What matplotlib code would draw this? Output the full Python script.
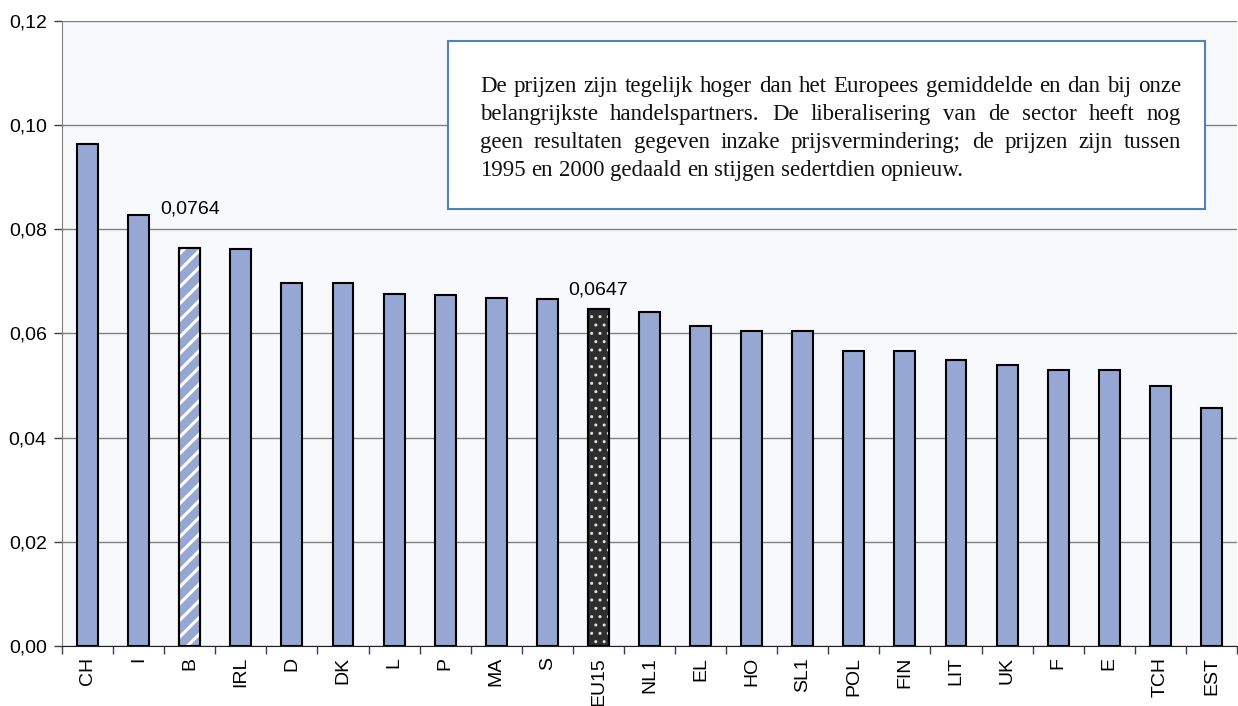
import matplotlib.pyplot as plt
from matplotlib.ticker import FixedLocator, FuncFormatter, MultipleLocator
from matplotlib.patches import Rectangle

countries = ['CH', 'I', 'B', 'IRL', 'D', 'DK', 'L', 'P', 'MA', 'S', 'EU15', 'NL1',
             'EL', 'HO', 'SL1', 'POL', 'FIN', 'LIT', 'UK', 'F', 'E', 'TCH', 'EST']
prices = [0.0963, 0.0827, 0.0764, 0.0763, 0.0697, 0.0697, 0.0675, 0.0673, 0.0668,
          0.0666, 0.0647, 0.0641, 0.0615, 0.0605, 0.0604, 0.0567, 0.0567, 0.0550,
          0.0540, 0.0529, 0.0529, 0.0500, 0.0456]
labelled = {'B': 28, 'EU15': 14}   # bar -> label offset (points)

note_lines = [
    'De prijzen zijn tegelijk hoger dan het Europees gemiddelde en dan bij onze',
    'belangrijkste handelspartners. De liberalisering van de sector heeft nog',
    'geen resultaten gegeven inzake prijsvermindering; de prijzen zijn tussen',
    '1995 en 2000 gedaald en stijgen sedertdien opnieuw.',
]

W, H = 1238, 706
plt.rcParams['font.family'] = ['Liberation Sans', 'DejaVu Sans']

fig = plt.figure(figsize=(W / 100, H / 100), dpi=100)
ax = fig.add_axes([62 / W, 60 / H, 1175 / W, 625 / H])
ax.set_facecolor('#F8F9FC')

blue = '#97A7D4'
bw = 0.41
x = list(range(len(countries)))
bars = ax.bar(x, prices, width=bw, color=blue, edgecolor='black', linewidth=1.5, zorder=3)

# Belgium striped, EU average dotted
i_b = countries.index('B')
i_eu = countries.index('EU15')
with plt.rc_context({'hatch.linewidth': 2.2}):
    ax.bar(i_b, prices[i_b], width=bw, color=blue, hatch='//', edgecolor='white', linewidth=0, zorder=3)
with plt.rc_context({'hatch.linewidth': 1.0}):
    ax.bar(i_eu, prices[i_eu], width=bw, color='#2E2E2E', hatch='..', edgecolor='#E0E0E0', linewidth=0, zorder=3)
for i in (i_b, i_eu):
    ax.bar(i, prices[i], width=bw, fill=False, edgecolor='black', linewidth=1.5, zorder=4)

for name, off in labelled.items():
    i = countries.index(name)
    ax.annotate(f'{prices[i]:.4f}'.replace('.', ','), (i, prices[i]), xytext=(0, off),
                textcoords='offset points', ha='center', va='center', fontsize=14)

ax.set_xlim(-0.5, len(countries) - 0.5)
ax.set_ylim(0, 0.12)
ax.yaxis.set_major_locator(MultipleLocator(0.02))
ax.yaxis.set_major_formatter(FuncFormatter(lambda v, p: f'{v:.2f}'.replace('.', ',')))
ax.grid(axis='y', color='#808080', linewidth=1, zorder=0)
ax.set_axisbelow(True)

ax.set_xticks(x)
ax.set_xticklabels(countries, rotation=90, fontsize=14)
ax.tick_params(axis='x', which='major', length=0, pad=8)
ax.xaxis.set_minor_locator(FixedLocator([i - 0.5 for i in range(len(countries) + 1)]))
ax.tick_params(axis='x', which='minor', length=6, width=1, color='#404040')
ax.tick_params(axis='y', length=6, width=1, color='#404040', labelsize=14, pad=5)

for s in ['top', 'right']:
    ax.spines[s].set_visible(False)
ax.spines['left'].set_color('#808080')
ax.spines['bottom'].set_color('#202020')

# Comment box
fig.patches.append(Rectangle((448 / W, 1 - 209 / H), (1205 - 448) / W, (209 - 41) / H,
                             transform=fig.transFigure, facecolor='white',
                             edgecolor='#4F81BD', linewidth=1.5, zorder=5))

fig.canvas.draw()
renderer = fig.canvas.get_renderer()
text_left, text_right = 480, 1181
note_font = dict(fontsize=16.5, family='Liberation Serif', color='#111111')
probe = fig.text(0, 0, 'a a', **note_font)
probe2 = fig.text(0, 0, 'aa', **note_font)
space = probe.get_window_extent(renderer).width - probe2.get_window_extent(renderer).width
probe.remove()
probe2.remove()

# justified lines, last one left-aligned
for n, line in enumerate(note_lines):
    y = H - (92 + 28 * n)
    words = line.split()
    texts = [fig.text(0, y / H, w, va='baseline', zorder=6, **note_font) for w in words]
    widths = [t.get_window_extent(renderer).width for t in texts]
    if n < len(note_lines) - 1:
        gap = (text_right - text_left - sum(widths)) / (len(words) - 1)
    else:
        gap = space
    pos = text_left
    for t, w in zip(texts, widths):
        t.set_x(pos / W)
        pos += w + gap

fig.savefig('out.png', dpi=100)
